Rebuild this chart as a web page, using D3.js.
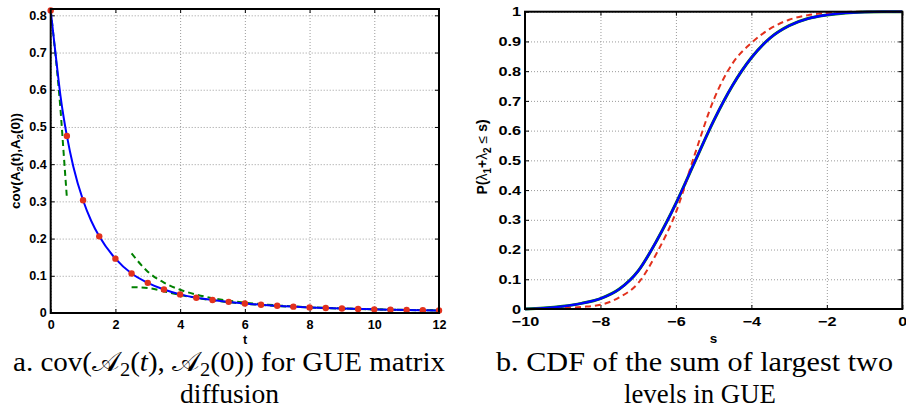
<!DOCTYPE html>
<html>
<head>
<meta charset="utf-8">
<script src="https://cdn.jsdelivr.net/npm/d3@7"></script>
<style>
  html, body { margin: 0; padding: 0; background: #fff; }
  svg { display: block; }
</style>
</head>
<body>
<svg id="chart" width="906" height="409"></svg>
<script>
// ---------- Data: panel a (covariance of Airy2 process) ----------
const covDotT = [0,0.5,1,1.5,2,2.5,3,3.5,4,4.5,5,5.5,6,6.5,7,7.5,8,8.5,9,9.5,10,10.5,11,11.5,12];
const covDotV = [0.813,0.476,0.303,0.206,0.146,0.106,0.081,0.063,0.050,0.041,0.035,0.030,0.0255,0.0222,0.0193,0.0170,0.0150,0.0134,0.0120,0.0108,0.0098,0.0089,0.0081,0.0074,0.0068];
const covLineT = [0,0.1,0.2,0.3,0.4,0.5,0.7,1.0,1.25,1.5,2,2.5,3,3.5,4,4.5,5,6,7,8,9,10,11,12];
const covLineV = [0.813,0.735,0.658,0.585,0.526,0.476,0.393,0.303,0.248,0.206,0.146,0.106,0.081,0.063,0.050,0.041,0.035,0.0255,0.0193,0.0150,0.0120,0.0098,0.0081,0.0068];
const shortT = [0,0.1,0.2,0.3,0.4,0.5];
const shortV = [0.813,0.733,0.648,0.55,0.43,0.31];
const longT = [2.5,3,3.5,4,4.5,5,6,7,8,9,10,11,12];
const longUpperV = [0.160,0.1111,0.0816,0.0625,0.0494,0.040,0.0278,0.0204,0.0156,0.0123,0.0100,0.0083,0.0069];
const longLowerV = [0.0693,0.0674,0.058,0.0487,0.0407,0.0343,0.0250,0.0189,0.0148,0.0118,0.0097,0.0080,0.0068];
const xTicksA = [0,2,4,6,8,10,12];
const yTicksA = [0,0.1,0.2,0.3,0.4,0.5,0.6,0.7,0.8];

// ---------- Data: panel b (CDF of lambda1 + lambda2) ----------
const cdfS = [-10,-9.5,-9,-8.5,-8,-7.5,-7,-6.5,-6,-5.5,-5,-4.5,-4,-3.5,-3,-2.5,-2,-1.5,-1,-0.5,0];
const cdfBlue = [0,0.003,0.009,0.019,0.035,0.067,0.128,0.232,0.355,0.495,0.633,0.752,0.845,0.912,0.953,0.977,0.989,0.996,0.999,1,1];
const cdfRedS = [-10,-9.5,-9,-8.5,-8,-7.5,-7,-6.5,-6,-5.5,-5,-4.5,-4,-3.5,-3,-2.5,-2,-1.5,-1,0];
const cdfRed = [0,0.001,0.003,0.007,0.014,0.039,0.087,0.19,0.325,0.52,0.703,0.826,0.895,0.943,0.973,0.988,0.996,0.999,1,1];
const xTicksB = [-10,-8,-6,-4,-2,0];
const yTicksB = [0,0.1,0.2,0.3,0.4,0.5,0.6,0.7,0.8,0.9,1];

const svg = d3.select("#chart");
const BLUE = "#0000ff", GREEN = "#008000", RED = "#e2311d";
const tickFont = "'Liberation Sans', Arial, Helvetica, sans-serif";

function panel(opts) {
  const { left, right, top, bottom, xDomain, yDomain, xTicks, yTicks, xFmt, yFmt, stretch, fs, xPad } = opts;
  const x = d3.scaleLinear().domain(xDomain).range([left, right]);
  const y = d3.scaleLinear().domain(yDomain).range([bottom, top]);
  const g = svg.append("g");
  // grid
  g.append("g").attr("transform", `translate(0,${bottom})`)
    .call(d3.axisBottom(x).tickValues(xTicks).tickSize(-(bottom - top)).tickFormat(""))
    .call(s => s.select(".domain").remove())
    .selectAll("line").attr("stroke", "#9a9a9a").attr("stroke-dasharray", "1,2");
  g.append("g").attr("transform", `translate(${left},0)`)
    .call(d3.axisLeft(y).tickValues(yTicks).tickSize(-(right - left)).tickFormat(""))
    .call(s => s.select(".domain").remove())
    .selectAll("line").attr("stroke", "#9a9a9a").attr("stroke-dasharray", "1,2");
  // axes with inward ticks
  const ax = g.append("g").attr("transform", `translate(0,${bottom})`)
    .call(d3.axisBottom(x).tickValues(xTicks).tickSizeInner(-4).tickSizeOuter(0).tickPadding(xPad).tickFormat(xFmt));
  const ay = g.append("g").attr("transform", `translate(${left},0)`)
    .call(d3.axisLeft(y).tickValues(yTicks).tickSizeInner(-4).tickSizeOuter(0).tickPadding(4).tickFormat(yFmt));
  const at = g.append("g").attr("transform", `translate(0,${top})`)
    .call(d3.axisTop(x).tickValues(xTicks).tickSizeInner(-4).tickSizeOuter(0).tickFormat(""));
  const ar = g.append("g").attr("transform", `translate(${right},0)`)
    .call(d3.axisRight(y).tickValues(yTicks).tickSizeInner(-4).tickSizeOuter(0).tickFormat(""));
  [ax, ay, at, ar].forEach(a => {
    a.select(".domain").remove();
    a.selectAll("line").attr("stroke", "#000").attr("stroke-width", 1);
    a.selectAll("text").attr("font-family", tickFont).attr("font-weight", "bold")
      .attr("font-size", fs).attr("fill", "#000");
  });
  if (stretch !== 1) {
    ax.selectAll("text").attr("transform", `scale(${stretch},1)`);
    ay.selectAll("text").attr("transform", `scale(${stretch},1)`).attr("x", -4 / stretch);
  }
  return { g, x, y };
}

// ---------- Panel a ----------
const A = panel({ left: 50.7, right: 439, top: 9, bottom: 313, xDomain: [0, 12], yDomain: [0, 0.817],
  xTicks: xTicksA, yTicks: yTicksA, xFmt: d3.format("d"), yFmt: d => d === 0 ? "0" : d3.format(".1f")(d),
  stretch: 1.05, fs: 12, xPad: 7 });
const lineA = d3.line().x(d => A.x(d[0])).y(d => A.y(d[1])).curve(d3.curveMonotoneX);
const clipA = A.g.append("g");
clipA.append("path").datum(d3.zip(shortT, shortV)).attr("d", lineA)
  .attr("fill", "none").attr("stroke", GREEN).attr("stroke-width", 2).attr("stroke-dasharray", "6,4");
clipA.append("path").datum(d3.zip(longT, longUpperV)).attr("d", lineA)
  .attr("fill", "none").attr("stroke", GREEN).attr("stroke-width", 2).attr("stroke-dasharray", "6,4");
clipA.append("path").datum(d3.zip(longT, longLowerV)).attr("d", lineA)
  .attr("fill", "none").attr("stroke", GREEN).attr("stroke-width", 2).attr("stroke-dasharray", "6,4");
clipA.append("path").datum(d3.zip(covLineT, covLineV)).attr("d", lineA)
  .attr("fill", "none").attr("stroke", BLUE).attr("stroke-width", 2);
clipA.selectAll("circle").data(d3.zip(covDotT, covDotV)).join("circle")
  .attr("cx", d => A.x(d[0])).attr("cy", d => A.y(d[1])).attr("r", 3.2).attr("fill", RED);
A.g.append("rect").attr("x", 50.7).attr("y", 9).attr("width", 439 - 50.7).attr("height", 313 - 9)
  .attr("fill", "none").attr("stroke", "#000").attr("stroke-width", 2);

// axis labels a
A.g.append("text").attr("x", 245).attr("y", 344).attr("text-anchor", "middle")
  .attr("font-family", tickFont).attr("font-weight", "bold").attr("font-size", 12.5).text("t");
const yla = A.g.append("text").attr("transform", "translate(19.5,161) rotate(-90)").attr("text-anchor", "middle")
  .attr("font-family", tickFont).attr("font-weight", "bold").attr("font-size", 13.5);
yla.append("tspan").text("cov(A");
yla.append("tspan").attr("font-size", 9.5).attr("dy", 3.5).text("2");
yla.append("tspan").attr("dy", -3.5).text("(t),A");
yla.append("tspan").attr("font-size", 9.5).attr("dy", 3.5).text("2");
yla.append("tspan").attr("dy", -3.5).text("(0))");

// ---------- Panel b ----------
const B = panel({ left: 525, right: 902.3, top: 11.7, bottom: 309, xDomain: [-10, 0], yDomain: [0, 1],
  xTicks: xTicksB, yTicks: yTicksB, xFmt: d3.format("d"), yFmt: d => (d === 0 || d === 1) ? String(d) : d3.format(".1f")(d),
  stretch: 1.25, fs: 13, xPad: 8 });
const lineB = d3.line().x(d => B.x(d[0])).y(d => B.y(d[1])).curve(d3.curveMonotoneX);
B.g.append("path").datum(d3.zip(cdfS, cdfBlue)).attr("d", lineB)
  .attr("fill", "none").attr("stroke", GREEN).attr("stroke-width", 3);
B.g.append("path").datum(d3.zip(cdfRedS, cdfRed)).attr("d", lineB)
  .attr("fill", "none").attr("stroke", RED).attr("stroke-width", 2).attr("stroke-dasharray", "6,4");
B.g.append("path").datum(d3.zip(cdfS, cdfBlue)).attr("d", lineB)
  .attr("fill", "none").attr("stroke", BLUE).attr("stroke-width", 2.3);
B.g.append("rect").attr("x", 525).attr("y", 11.7).attr("width", 902.3 - 525).attr("height", 309 - 11.7)
  .attr("fill", "none").attr("stroke", "#000").attr("stroke-width", 2);

B.g.append("text").attr("x", 713.6).attr("y", 343).attr("text-anchor", "middle")
  .attr("font-family", tickFont).attr("font-weight", "bold").attr("font-size", 13.5).text("s");
const ylb = B.g.append("text").attr("transform", "translate(487,157) rotate(-90)").attr("text-anchor", "middle")
  .attr("font-family", tickFont).attr("font-weight", "bold").attr("font-size", 14);
ylb.append("tspan").text("P(");
ylb.append("tspan").attr("font-weight", "normal").text("λ");
ylb.append("tspan").attr("font-size", 10).attr("dy", 3.5).text("1");
ylb.append("tspan").attr("dy", -3.5).text("+");
ylb.append("tspan").attr("font-weight", "normal").text("λ");
ylb.append("tspan").attr("font-size", 10).attr("dy", 3.5).text("2");
ylb.append("tspan").attr("dy", -3.5).attr("font-weight", "normal").text(" ≤ ");
ylb.append("tspan").text("s)");

// ---------- Captions ----------
const capFont = "'Liberation Serif', 'Times New Roman', serif";
const c1 = svg.append("text").attr("x", 13).attr("y", 371).attr("font-family", capFont).attr("font-size", 27)
  .attr("textLength", 432).attr("lengthAdjust", "spacingAndGlyphs");
c1.append("tspan").text("a.  cov(");
c1.append("tspan").text("𝒜");
c1.append("tspan").attr("font-size", 19).attr("dy", 5).text("2");
c1.append("tspan").attr("dy", -5).text("(");
c1.append("tspan").attr("font-style", "italic").text("t");
c1.append("tspan").text("), ");
c1.append("tspan").text("𝒜");
c1.append("tspan").attr("font-size", 19).attr("dy", 5).text("2");
c1.append("tspan").attr("dy", -5).text("(0)) for GUE matrix");
svg.append("text").attr("x", 180).attr("y", 403).attr("font-family", capFont).attr("font-size", 27)
  .attr("textLength", 99).attr("lengthAdjust", "spacingAndGlyphs").text("diffusion");
svg.append("text").attr("x", 496).attr("y", 371).attr("font-family", capFont).attr("font-size", 27)
  .attr("textLength", 397).attr("lengthAdjust", "spacingAndGlyphs").text("b.  CDF of the sum of largest two");
svg.append("text").attr("x", 624).attr("y", 403).attr("font-family", capFont).attr("font-size", 27)
  .attr("textLength", 152).attr("lengthAdjust", "spacingAndGlyphs").text("levels in GUE");
</script>
</body>
</html>
